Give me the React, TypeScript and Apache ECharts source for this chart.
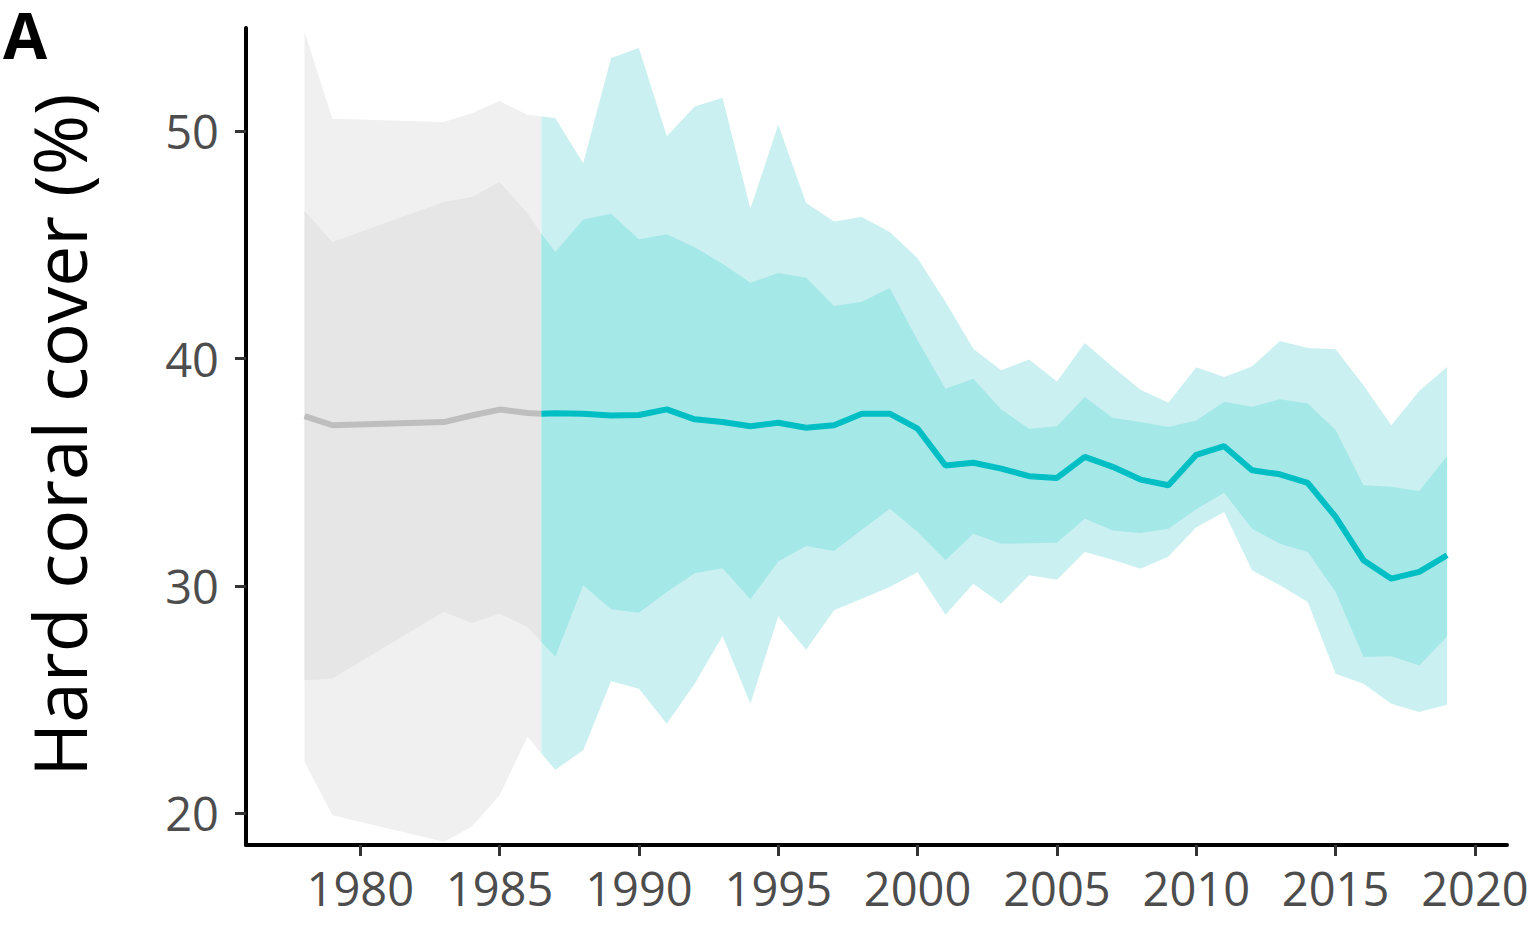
import React, { useEffect, useRef } from "react";
import * as echarts from "echarts";

// Early period (grey) – survey years
const grayYears = [1978, 1979, 1983, 1984, 1985, 1986, 1986.5];
const grayMean = [37.47, 37.07, 37.21, 37.5, 37.76, 37.61, 37.58];
const grayInnerLow = [25.85, 25.93, 28.86, 28.37, 28.78, 28.2, 27.53];
const grayInnerHigh = [46.5, 45.13, 46.89, 47.11, 47.77, 46.4, 45.5];
const grayOuterLow = [22.26, 19.91, 18.74, 19.4, 20.79, 23.36, 22.63];
const grayOuterHigh = [54.4, 50.56, 50.41, 50.8, 51.34, 50.73, 50.67];

// Main period (teal)
const tealYears = [
  1986.5, 1987, 1988, 1989, 1990, 1991, 1992, 1993, 1994, 1995, 1996, 1997,
  1998, 1999, 2000, 2001, 2002, 2003, 2004, 2005, 2006, 2007, 2008, 2009,
  2010, 2011, 2012, 2013, 2014, 2015, 2016, 2017, 2018, 2019,
];
const tealMean = [
  37.58, 37.6, 37.58, 37.5, 37.52, 37.77, 37.33, 37.21, 37.03, 37.18, 36.96,
  37.07, 37.58, 37.58, 36.92, 35.3, 35.42, 35.16, 34.83, 34.75, 35.68, 35.24,
  34.68, 34.43, 35.77, 36.15, 35.09, 34.91, 34.53, 33.04, 31.13, 30.32, 30.62,
  31.35,
];
const tealInnerHigh = [
  45.5, 44.69, 46.12, 46.38, 45.25, 45.47, 44.9, 44.18, 43.34, 43.77, 43.56,
  42.32, 42.5, 43.11, 40.81, 38.68, 39.12, 37.76, 36.92, 37.03, 38.31, 37.4,
  37.21, 36.99, 37.28, 38.1, 37.88, 38.21, 38.03, 36.86, 34.43, 34.36, 34.18,
  35.71,
];
const tealInnerLow = [
  27.53, 26.88, 30.03, 28.97, 28.82, 29.73, 30.56, 30.78, 29.41, 31.08, 31.76,
  31.54, 32.47, 33.4, 32.37, 31.13, 32.3, 31.86, 31.88, 31.9, 32.96, 32.44,
  32.33, 32.52, 33.37, 34.1, 32.52, 31.86, 31.49, 29.73, 26.87, 26.9, 26.5,
  27.78,
];
const tealOuterHigh = [
  50.67, 50.58, 48.6, 53.23, 53.67, 49.79, 51.1, 51.48, 46.6, 50.29, 46.85,
  46.04, 46.23, 45.57, 44.42, 42.5, 40.44, 39.49, 39.96, 39.0, 40.69, 39.63,
  38.63, 38.06, 39.62, 39.19, 39.66, 40.78, 40.47, 40.41, 38.83, 37.07, 38.58,
  39.63,
];
const tealOuterLow = [
  22.63, 21.91, 22.77, 25.81, 25.48, 23.94, 25.7, 27.8, 24.82, 28.67, 27.19,
  28.93, 29.44, 29.95, 30.6, 28.73, 30.1, 29.22, 30.47, 30.27, 31.49, 31.15,
  30.76, 31.3, 32.58, 33.25, 30.69, 30.03, 29.29, 26.14, 25.7, 24.82, 24.45,
  24.77,
];

const xTicks = [1980, 1985, 1990, 1995, 2000, 2005, 2010, 2015, 2020];
const yTicks = [20, 30, 40, 50];

const FONT = "'Open Sans', 'DejaVu Sans', sans-serif";

const pairs = (xs: number[], ys: number[]) => xs.map((x, i) => [x, ys[i]]);

// A shaded ribbon between a lower and an upper bound, drawn as one polygon
function band(name: string, xs: number[], low: number[], high: number[], color: string) {
  return {
    type: "custom",
    name,
    silent: true,
    data: xs.map((x, i) => [x, low[i], high[i]]),
    encode: { x: 0, y: [1, 2] },
    renderItem: (params: any, api: any) => {
      if (params.dataIndex !== 0) return null;
      const upper = xs.map((x, i) => api.coord([x, high[i]]));
      const lower = xs.map((x, i) => api.coord([x, low[i]])).reverse();
      return {
        type: "polygon",
        shape: { points: upper.concat(lower) },
        style: { fill: color },
        silent: true,
      };
    },
  };
}

export default function App() {
  const ref = useRef<HTMLDivElement>(null);

  useEffect(() => {
    if (!ref.current) return;
    const chart = echarts.init(ref.current, null, { renderer: "svg" });
    chart.setOption({
      animation: false,
      backgroundColor: "#ffffff",
      grid: { left: 246, right: 29, top: 28, bottom: 104, containLabel: false },
      xAxis: {
        type: "value",
        min: 1975.9,
        max: 2021.15,
        splitLine: { show: false },
        axisLine: { show: true, onZero: false, lineStyle: { color: "#000", width: 4 } },
        axisTick: {
          show: true,
          customValues: xTicks,
          length: 11,
          lineStyle: { color: "#333", width: 3 },
        },
        axisLabel: {
          customValues: xTicks,
          formatter: (v: number) => String(v),
          fontSize: 47,
          fontFamily: FONT,
          color: "#4d4d4d",
          margin: 19,
        },
      },
      yAxis: {
        type: "value",
        min: 18.6,
        max: 54.55,
        splitLine: { show: false },
        axisLine: { show: true, onZero: false, lineStyle: { color: "#000", width: 4 } },
        axisTick: {
          show: true,
          customValues: yTicks,
          length: 11,
          lineStyle: { color: "#333", width: 3 },
        },
        axisLabel: {
          customValues: yTicks,
          formatter: (v: number) => String(v),
          fontSize: 47,
          fontFamily: FONT,
          color: "#4d4d4d",
          margin: 27,
        },
      },
      graphic: [
        {
          type: "text",
          x: 3,
          y: 34,
          style: {
            text: "A",
            fontSize: 64,
            lineHeight: 64,
            fontWeight: "bold",
            fontFamily: FONT,
            fill: "#000",
            align: "left",
            verticalAlign: "middle",
          },
        },
        {
          type: "text",
          x: 58,
          y: 435,
          rotation: Math.PI / 2,
          style: {
            text: "Hard coral cover (%)",
            fontSize: 73,
            fontFamily: FONT,
            fill: "#000",
            align: "center",
            verticalAlign: "middle",
          },
        },
      ],
      series: [
        band("grayOuter", grayYears, grayOuterLow, grayOuterHigh, "#f0f0f0"),
        band("grayInner", grayYears, grayInnerLow, grayInnerHigh, "#e6e6e6"),
        band("tealOuter", tealYears, tealOuterLow, tealOuterHigh, "#cbf0f1"),
        band("tealInner", tealYears, tealInnerLow, tealInnerHigh, "#a5e8e8"),
        {
          type: "line",
          name: "grayMean",
          data: pairs(grayYears, grayMean),
          symbol: "none",
          lineStyle: { color: "#bebebe", width: 6 },
        },
        {
          type: "line",
          name: "tealMean",
          data: pairs(tealYears, tealMean),
          symbol: "none",
          lineStyle: { color: "#00bfc4", width: 6 },
        },
      ],
    });
    return () => chart.dispose();
  }, []);

  return (
    <div
      ref={ref}
      style={{ position: "absolute", left: 0, top: 0, width: 1536, height: 949 }}
    />
  );
}
